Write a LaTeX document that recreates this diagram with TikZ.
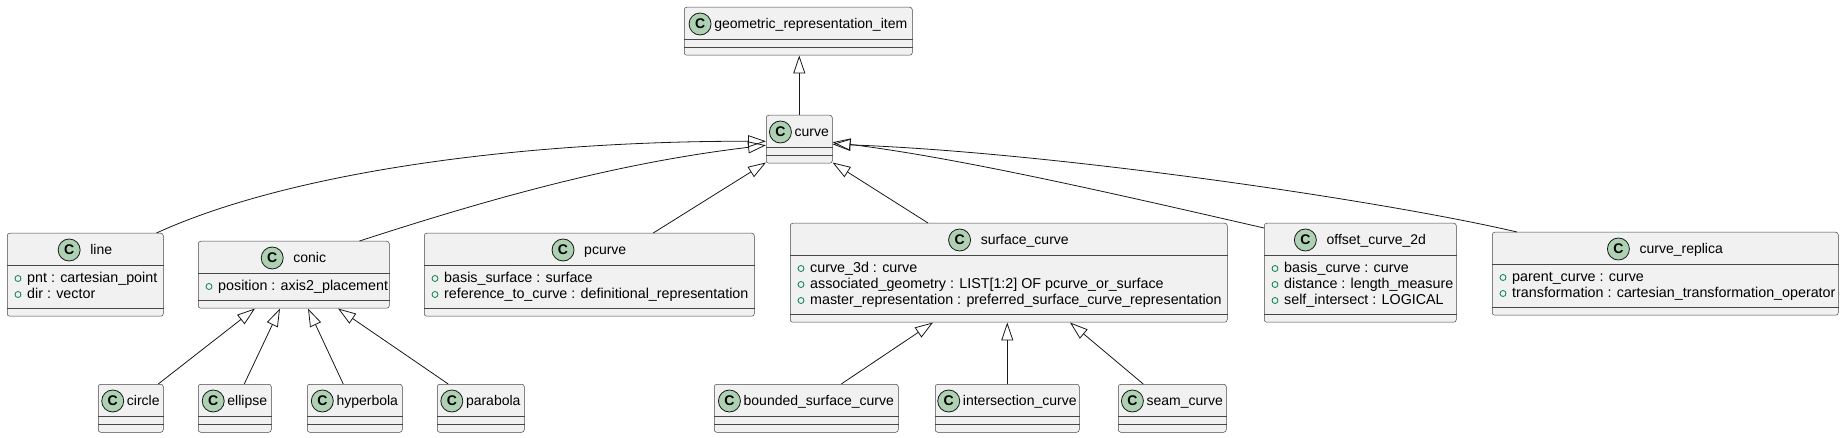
\documentclass[tikz,border=0pt]{standalone}
\usepackage{fontspec}
\setmainfont{Liberation Sans}
\usetikzlibrary{arrows.meta}

\definecolor{umlfill}{HTML}{F1F1F1}
\definecolor{umlborder}{HTML}{181818}
\definecolor{umlicon}{HTML}{ADD1B2}
\definecolor{umlattr}{HTML}{038048}

\newcommand{\titlefont}{\fontsize{14}{16}\selectfont}
\newcommand{\attrfont}{\fontsize{14.3}{16}\selectfont}

\tikzset{
  clsbox/.style={draw=umlborder!80, fill=umlfill, line width=0.5pt, rounded corners=2.5pt, anchor=north west, inner sep=0pt},
  clssep/.style={draw=umlborder!80, line width=0.5pt},
  clsicon/.style={circle, draw=umlborder, fill=umlicon, line width=0.8pt, minimum size=22pt, inner sep=0pt, font=\fontsize{14}{14}\selectfont\bfseries},
  clsname/.style={inner sep=0pt, font=\titlefont},
  attrdot/.style={draw=umlattr, line width=0.8pt},
  attrtext/.style={inner sep=0pt, font=\attrfont},
  extends/.style={draw=umlborder, line width=0.8pt, -{Triangle[open, length=18pt, width=12pt]}},
}

% class box: name, x, y, width, number of attributes, gap icon/title, title
\newcommand{\umlclass}[7]{%
  \pgfmathsetmacro\attrh{#5==0 ? 8 : 16*#5+11}
  \pgfmathsetmacro\boxh{32+\attrh+8}
  \node[clsbox, minimum width=#4pt, minimum height=\boxh pt] (#1) at (#2,#3) {};
  \draw[clssep] ([yshift=-32pt]#1.north west) -- ([yshift=-32pt]#1.north east);
  \draw[clssep] ([yshift=8pt]#1.south west) -- ([yshift=8pt]#1.south east);
  \path (#1.north) ++({(22+#6)/2},21.5) node[clsname, anchor=base] (#1-name) {#7};
  \path (#1-name.west |- #1.north) ++({-#6-11},17) node[clsicon] (#1-icon) {C};
}
% attribute line: class, line number, text
\newcommand{\umlattr}[3]{%
  \path (#1.north west) ++(11,{32+13.5+16*(#2-1)}) coordinate (#1-a#2);
  \draw[attrdot] (#1-a#2) circle[radius=3pt];
  \node[attrtext, anchor=base west] (#1-t#2) at ([xshift=9pt,yshift=-3.6pt]#1-a#2) {#3};
}

\begin{document}
\begin{tikzpicture}[x=1pt,y=-1pt]
  \useasboundingbox (0,0) rectangle (1845,438);

  % classes
  \umlclass{gri}{684}{7}{228}{0}{3}{geometric\_representation\_item}
  \umlclass{curve}{766}{115}{66}{0}{3}{curve}

  \umlclass{line}{7}{233}{156}{2}{10}{line}
  \umlattr{line}{1}{pnt : cartesian\_point}
  \umlattr{line}{2}{dir : vector}

  \umlclass{conic}{198}{241}{191}{1}{10}{conic}
  \umlattr{conic}{1}{position : axis2\_placement}

  \umlclass{pcurve}{424}{233}{330}{2}{10}{pcurve}
  \umlattr{pcurve}{1}{basis\_surface : surface}
  \umlattr{pcurve}{2}{reference\_to\_curve : definitional\_representation}

  \umlclass{surfcurve}{790}{223}{437}{3}{10}{surface\_curve}
  \umlattr{surfcurve}{1}{curve\_3d : curve}
  \umlattr{surfcurve}{2}{associated\_geometry : LIST[1:2] OF pcurve\_or\_surface}
  \umlattr{surfcurve}{3}{master\_representation : preferred\_surface\_curve\_representation}

  \umlclass{offset}{1264}{223}{192}{3}{10}{offset\_curve\_2d}
  \umlattr{offset}{1}{basis\_curve : curve}
  \umlattr{offset}{2}{distance : length\_measure}
  \umlattr{offset}{3}{self\_intersect : LOGICAL}

  \umlclass{replica}{1492}{232}{346}{2}{10}{curve\_replica}
  \umlattr{replica}{1}{parent\_curve : curve}
  \umlattr{replica}{2}{transformation : cartesian\_transformation\_operator}

  \umlclass{circ}{98}{384}{65}{0}{3}{circle}
  \umlclass{ellip}{198}{384}{73}{0}{3}{ellipse}
  \umlclass{hyperb}{307}{384}{95}{0}{3}{hyperbola}
  \umlclass{parab}{437}{384}{87}{0}{3}{parabola}

  \umlclass{bounded}{714}{384}{184}{0}{3}{bounded\_surface\_curve}
  \umlclass{intersect}{935}{384}{144}{0}{3}{intersection\_curve}
  \umlclass{seam}{1118}{384}{108}{0}{3}{seam\_curve}

  % generalisations
  \draw[extends] (curve.north) -- (curve.north |- gri.south);

  \draw[extends] ([xshift=-7pt]line.north east) .. controls (290,172) and (520,141) .. ([yshift=-2pt]curve.west);
  \draw[extends] ([xshift=-30pt]conic.north east) .. controls (489,199) and (616,163) .. ([yshift=-6pt]curve.west);
  \draw[extends] ([xshift=64pt]pcurve.north) -- ([yshift=1pt]curve.south west);
  \draw[extends] ([xshift=138pt]surfcurve.north west) -- ([yshift=1pt]curve.south east);
  \draw[extends] ([yshift=-5pt]offset.north west) .. controls (1120,195) and (960,158) .. ([yshift=-3pt]curve.east);
  \draw[extends] ([xshift=25pt]replica.north west) .. controls (1380,200) and (1050,152) .. ([yshift=-5pt]curve.east);

  \draw[extends] ([xshift=27.5pt]circ.north) -- ([xshift=57pt]conic.south west);
  \draw[extends] ([xshift=9.5pt]ellip.north) -- ([xshift=82pt]conic.south west);
  \draw[extends] ([xshift=-11.5pt]hyperb.north) -- ([xshift=110pt]conic.south west);
  \draw[extends] ([xshift=-32.5pt]parab.north) -- ([xshift=140pt]conic.south west);

  \draw[extends] ([xshift=35pt]bounded.north) -- ([xshift=143pt]surfcurve.south west);
  \draw[extends] (intersect.north) -- (intersect.north |- surfcurve.south);
  \draw[extends] ([xshift=-29pt]seam.north) -- ([xshift=280pt]surfcurve.south west);
\end{tikzpicture}
\end{document}
